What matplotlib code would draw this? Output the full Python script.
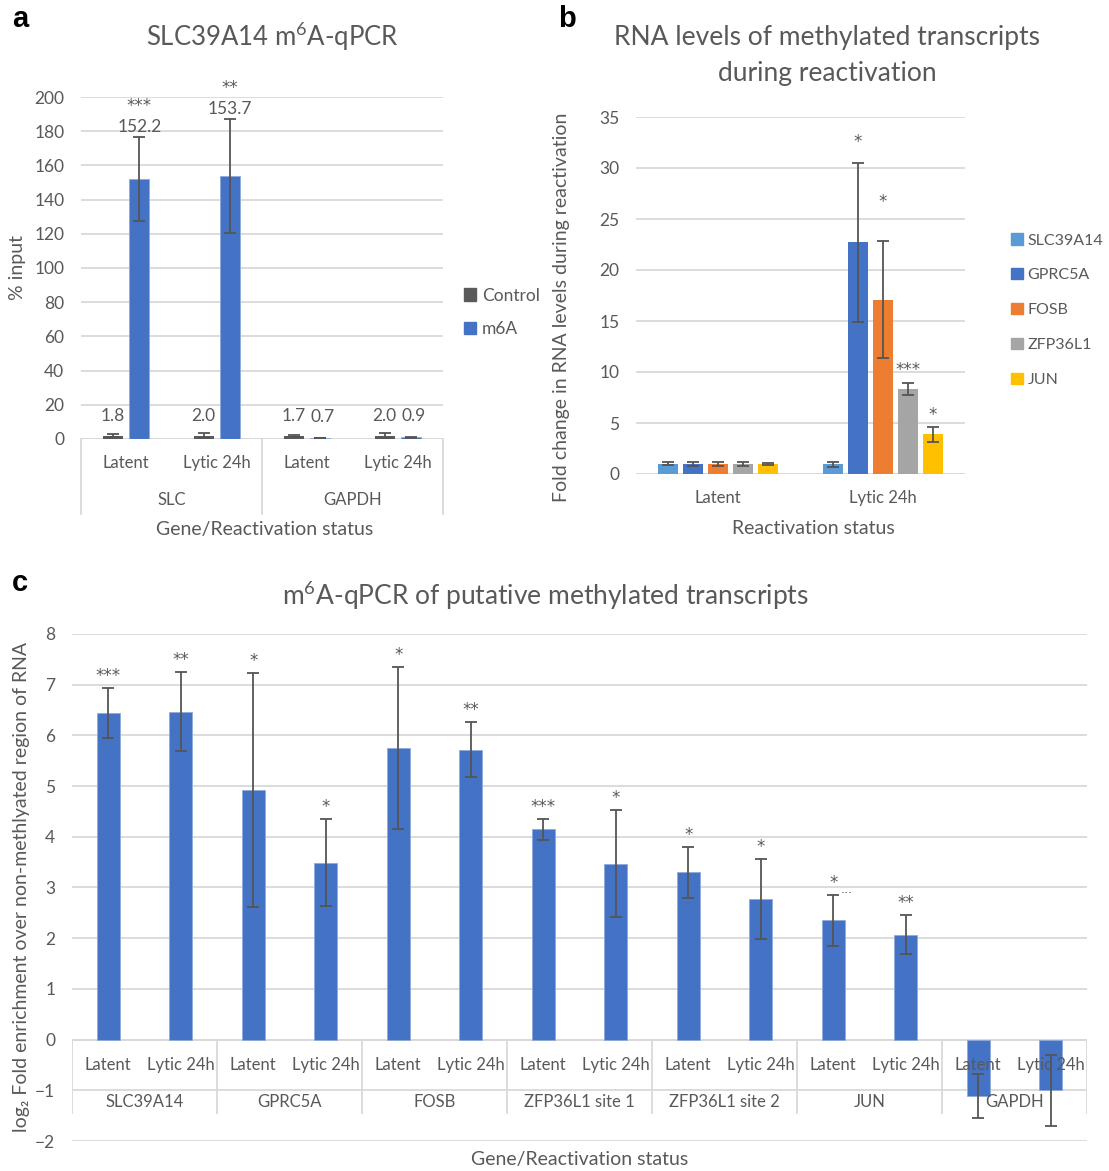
import numpy as np
import matplotlib
matplotlib.use("Agg")
import matplotlib.pyplot as plt
from matplotlib.patches import Patch
from matplotlib.lines import Line2D

plt.rcParams['font.family'] = ['Lato', 'DejaVu Sans']
plt.rcParams['mathtext.fontset'] = 'custom'
plt.rcParams['mathtext.rm'] = 'Lato'
plt.rcParams['mathtext.default'] = 'regular'

# ---------------- data ----------------
# Panel a
a_status = ["Latent", "Lytic 24h", "Latent", "Lytic 24h"]
a_genes = ["SLC", "GAPDH"]
a_control = [1.8, 2.0, 1.7, 2.0]
a_control_err = [0.9, 1.5, 0.8, 1.4]
a_m6a = [152.2, 153.7, 0.7, 0.9]
a_m6a_err = [24.5, 33.3, 0.15, 0.2]
a_m6a_stars = ["***", "**", "", ""]

# Panel b
b_status = ["Latent", "Lytic 24h"]
b_genes = ["SLC39A14", "GPRC5A", "FOSB", "ZFP36L1", "JUN"]
b_latent = [1.0, 1.0, 1.0, 1.0, 1.0]
b_latent_err = [0.15, 0.22, 0.2, 0.22, 0.1]
b_lytic = [0.94, 22.7, 17.1, 8.3, 3.9]
b_lytic_err = [0.22, 7.8, 5.7, 0.59, 0.73]
b_lytic_stars = ["", "*", "*", "***", "*"]

# Panel c
c_genes = ["SLC39A14", "GPRC5A", "FOSB", "ZFP36L1 site 1", "ZFP36L1 site 2", "JUN", "GAPDH"]
c_status = ["Latent", "Lytic 24h"]
c_values = [6.44, 6.47, 4.93, 3.49, 5.75, 5.72, 4.15, 3.47, 3.30, 2.78, 2.35, 2.07, -1.11, -1.0]
c_err = [0.49, 0.78, 2.31, 0.86, 1.60, 0.55, 0.21, 1.05, 0.50, 0.79, 0.51, 0.38, 0.43, 0.70]
c_stars = ["***", "**", "*", "*", "*", "**", "***", "*", "*", "*", "*", "**", "", ""]

# ---------------- style ----------------
TC = '#595959'
GRID = '#D9D9D9'
ERRC = '#555555'
BLUE = '#4472C4'
CTRL = '#5A5A5A'
B_COLORS = ['#5B9BD5', '#4472C4', '#ED7D31', '#A5A5A5', '#FFC000']
STAR_FONT = ['DejaVu Sans']
W, H = 1109, 1171

fig = plt.figure(figsize=(W / 100, H / 100), dpi=100)


def ax_from_px(left, right, top, bottom):
    return fig.add_axes([left / W, 1 - bottom / H, (right - left) / W, (bottom - top) / H])


def style_axes(ax):
    for s in ax.spines.values():
        s.set_visible(False)
    ax.yaxis.grid(True, color=GRID, linewidth=1.3)
    ax.set_axisbelow(True)
    ax.tick_params(axis='y', length=0, pad=12, labelsize=12.5, labelcolor=TC)
    ax.tick_params(axis='x', length=0, labelbottom=False)


def fig_text(x, y, s, **kw):
    kw.setdefault('color', TC)
    fig.text(x / W, 1 - y / H, s, ha='center', va='center', **kw)


def star(ax, s, x, y, dy, dx=0, size=12):
    ax.annotate(s, (x, y), xytext=(dx, dy), textcoords='offset pixels', ha='center',
                va='baseline', fontsize=size, color=TC, family=STAR_FONT)


eb_kw = dict(ecolor=ERRC, elinewidth=1.3, capsize=4, capthick=1.3)

# ================= Panel a =================
ax = ax_from_px(81, 443, 97, 439)
style_axes(ax)
xa = np.arange(len(a_status))
bw = 0.22
off = 0.145
ax.bar(xa - off, a_control, bw, color=CTRL, yerr=a_control_err, error_kw=eb_kw, zorder=2, label='Control')
ax.bar(xa + off, a_m6a, bw, color=BLUE, yerr=a_m6a_err, error_kw=eb_kw, zorder=2, label='m6A',
       edgecolor='#8FAADC', linewidth=0.6)
ax.set_xlim(-0.5, len(a_status) - 0.5)
ax.set_ylim(0, 200)
ax.set_yticks(np.arange(0, 201, 20))
ax.axhline(0, color=GRID, linewidth=1.3, zorder=1)

for i in range(len(a_status)):
    ax.annotate(f"{a_control[i]:.1f}", (xa[i] - off, a_control[i]), xytext=(0, 20),
                textcoords='offset pixels', ha='center', va='center', fontsize=12.5, color=TC)
    if a_m6a[i] > 10:
        top = a_m6a[i] + a_m6a_err[i]
        ax.annotate(f"{a_m6a[i]:.1f}", (xa[i] + off, top), xytext=(0, 10),
                    textcoords='offset pixels', ha='center', va='center', fontsize=12.5, color=TC)
        star(ax, a_m6a_stars[i], xa[i] + off, top, 26)
    else:
        ax.annotate(f"{a_m6a[i]:.1f}", (xa[i] + off + 0.03, a_m6a[i]), xytext=(0, 21),
                    textcoords='offset pixels', ha='center', va='center', fontsize=12.5, color=TC)

tr = ax.get_xaxis_transform()
for i, s in enumerate(a_status):
    ax.text(xa[i], -0.07, s, transform=tr, ha='center', va='center', fontsize=12, color=TC, clip_on=False)
for g, name in enumerate(a_genes):
    ax.text(2 * g + 0.5, -0.178, name, transform=tr, ha='center', va='center', fontsize=12, color=TC,
            clip_on=False)
for xb in [-0.5, 1.5, 3.5]:
    ax.add_line(Line2D([xb, xb], [0, -0.22], transform=tr, color=GRID, linewidth=1.3, clip_on=False))

fig_text(272, 37, "SLC39A14 m$^{6}$A-qPCR", fontsize=18.5)
fig_text(265, 530, "Gene/Reactivation status", fontsize=14)
fig_text(17, 268, "% input", fontsize=14, rotation=90)
fig_text(20, 19, "a", fontsize=21, fontweight='bold', color='black', family=['Liberation Sans', 'DejaVu Sans'])

fig.legend(handles=[Patch(color=CTRL, label='Control'), Patch(color=BLUE, label='m6A')],
           loc='upper left', bbox_to_anchor=(448 / W, 1 - 272 / H), frameon=False,
           handlelength=0.7, handleheight=0.7, handletextpad=0.35, labelspacing=1.0,
           fontsize=12.5, labelcolor=TC)

# ================= Panel b =================
ax = ax_from_px(636, 965, 117, 474)
style_axes(ax)
xb_ = np.arange(len(b_status))
bw = 0.1216
step = 0.152
handles = []
for j, gname in enumerate(b_genes):
    pos = xb_ + (j - 2) * step
    vals = [b_latent[j], b_lytic[j]]
    errs = [b_latent_err[j], b_lytic_err[j]]
    ax.bar(pos, vals, bw, color=B_COLORS[j], yerr=errs, error_kw=eb_kw, zorder=2)
    handles.append(Patch(color=B_COLORS[j], label=gname))
star_px = [0, 16, 34, 8, 7]
for j in range(len(b_genes)):
    if b_lytic_stars[j]:
        star(ax, b_lytic_stars[j], 1 + (j - 2) * step, b_lytic[j] + b_lytic_err[j], star_px[j])
ax.set_xlim(-0.5, 1.5)
ax.set_ylim(0, 35)
ax.set_yticks(np.arange(0, 36, 5))
ax.axhline(0, color=GRID, linewidth=1.3, zorder=1)
tr = ax.get_xaxis_transform()
for i, s in enumerate(b_status):
    ax.text(xb_[i], -0.067, s, transform=tr, ha='center', va='center', fontsize=12, color=TC, clip_on=False)

fig_text(827, 38, "RNA levels of methylated transcripts", fontsize=19)
fig_text(827, 73, "during reactivation", fontsize=19)
fig_text(813, 529, "Reactivation status", fontsize=14)
fig_text(562, 307, "Fold change in RNA levels during reactivation", fontsize=14, rotation=90)
fig_text(567, 19, "b", fontsize=21, fontweight='bold', color='black', family=['Liberation Sans', 'DejaVu Sans'])
fig.legend(handles=handles, loc='upper left', bbox_to_anchor=(997 / W, 1 - 219 / H), frameon=False,
           handlelength=0.7, handleheight=0.7, handletextpad=0.3, labelspacing=1.3,
           fontsize=11.5, labelcolor=TC)

# ================= Panel c =================
ax = ax_from_px(72, 1087, 634, 1141)
style_axes(ax)
n = len(c_values)
xc = np.arange(n)
ax.bar(xc, c_values, 0.317, color=BLUE, yerr=c_err, error_kw=eb_kw, zorder=2,
       edgecolor='#8FAADC', linewidth=0.6)
for i in range(n):
    if c_stars[i]:
        star(ax, c_stars[i], xc[i], c_values[i] + c_err[i], 7)
star(ax, "...", xc[10] + 0.18, c_values[10] + c_err[10], 2, size=9)
ax.set_xlim(-0.5, n - 0.5)
ax.set_ylim(-2, 8)
ax.set_yticks(np.arange(-2, 9, 1))
ax.axhline(0, color=GRID, linewidth=1.3, zorder=1)
for i in range(n):
    ax.text(xc[i], -0.5, c_status[i % 2], ha='center', va='center', fontsize=12, color=TC, zorder=5)
for g, name in enumerate(c_genes):
    ax.text(2 * g + 0.5, -1.23, name, ha='center', va='center', fontsize=12, color=TC, zorder=5)
for xv in np.arange(-0.5, n, 2):
    ax.plot([xv, xv], [0, -1.45], color=GRID, linewidth=1.3, zorder=1)

fig_text(545, 596, "m$^{6}$A-qPCR of putative methylated transcripts", fontsize=19)
fig_text(580, 1160, "Gene/Reactivation status", fontsize=14)
fig_text(22, 887, "log₂ Fold enrichment over non-methlyated region of RNA", fontsize=14, rotation=90)
fig_text(20, 583, "c", fontsize=21, fontweight='bold', color='black', family=['Liberation Sans', 'DejaVu Sans'])

fig.savefig("out.png", dpi=100)
